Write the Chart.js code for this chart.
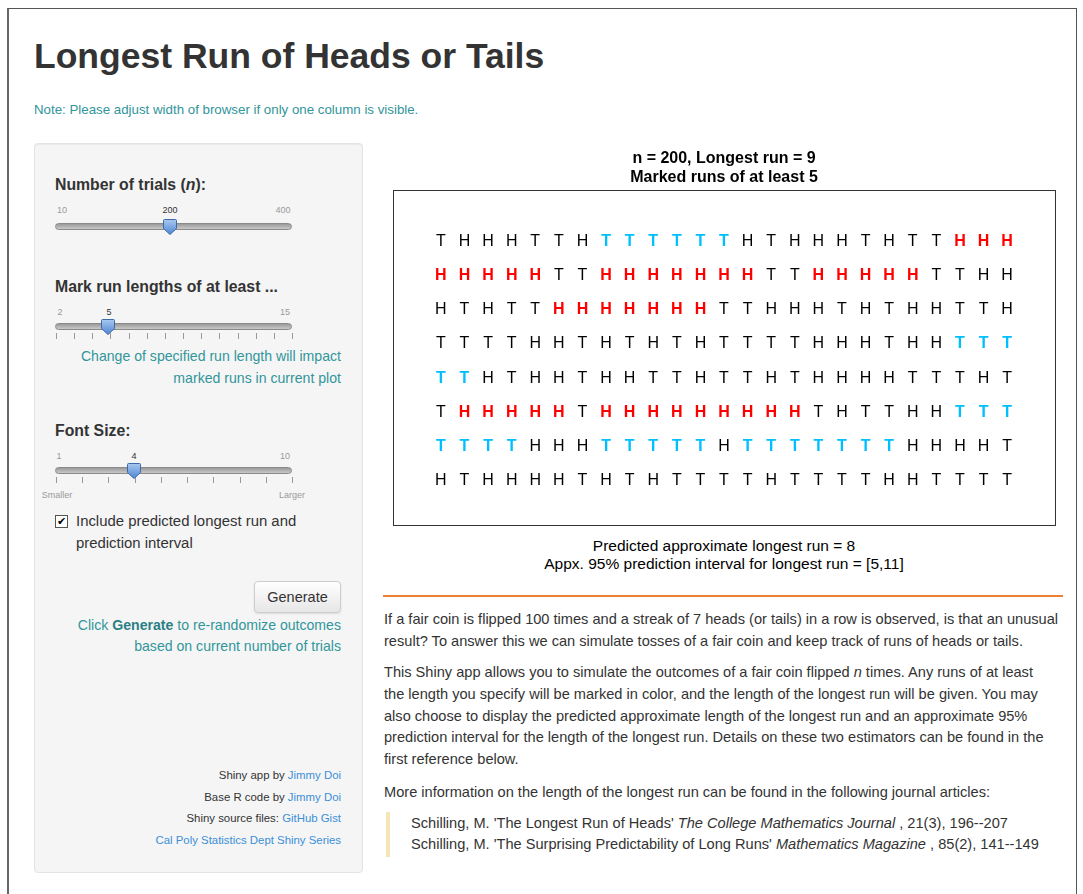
<!DOCTYPE html>
<html>
<head>
<meta charset="utf-8">
<script src="https://cdn.jsdelivr.net/npm/chart.js@4.4.1/dist/chart.umd.min.js"></script>
<style>
  html, body { margin: 0; padding: 0; background: #fff; }
  body { width: 1083px; height: 894px; position: relative; overflow: hidden;
         font-family: "Liberation Sans", Arial, sans-serif; color: #333; }
  .abs { position: absolute; white-space: nowrap; }
  #frame { position: absolute; left: 7px; top: 8px; width: 1067px; height: 900px;
           border: 1px solid #555; border-bottom: none; border-left: 2px solid #666; }
  #title { left: 34px; top: 38px; font-size: 35.5px; font-weight: bold; color: #333; line-height: 36px; }
  .teal { color: #31959b; }
  #note { left: 34px; top: 101px; font-size: 13.3px; line-height: 17px; }
  #side { position: absolute; left: 34px; top: 143px; width: 327px; height: 728px;
          background: #f5f5f5; border: 1px solid #e3e3e3; border-radius: 4px;
          box-shadow: inset 0 1px 1px rgba(0,0,0,0.05); }
  .lab { font-size: 15.8px; font-weight: bold; color: #333; line-height: 18px; }
  .sl { font-size: 9px; color: #999; line-height: 10px; transform: translateX(-50%); }
  .slv { color: #333; }
  .track { position: absolute; left: 55px; width: 235px; height: 5px; border: 1px solid #8a8a8a;
           border-radius: 4px; background: linear-gradient(#9a9a9a, #c9c9c9); }
  .handle { position: absolute; width: 14px; height: 16px; }
  .tick { position: absolute; width: 1px; height: 6px; background: #999; }
  .rt { right: 742px; text-align: right; font-size: 14.1px; line-height: 22px; }
  #btn { left: 254px; top: 581px; width: 85px; height: 30px; border: 1px solid #ccc; border-radius: 4px;
         background: linear-gradient(#ffffff, #e6e6e6); font-size: 14.5px; line-height: 30px;
         text-align: center; color: #333; box-shadow: 0 1px 2px rgba(0,0,0,0.1); }
  .foot { right: 742px; font-size: 11.4px; line-height: 14px; color: #333; }
  .lnk { color: #3a8fd8; }
  #chartBox { position: absolute; left: 380px; top: 145px; width: 692px; height: 390px; }
  .pred { left: 393px; width: 662px; text-align: center; font-size: 15.5px; color: #000; line-height: 18px; }
  #hr { position: absolute; left: 383px; top: 595px; width: 680px; height: 2px; background: #ee8033; }
  .para { left: 384px; font-size: 14.6px; color: #333; }
  #quote { position: absolute; left: 386px; top: 812px; width: 4px; height: 45px; background: #f7e6b5; }
</style>
</head>
<body>
<div id="frame"></div>
<div id="title" class="abs">Longest Run of Heads or Tails</div>
<div id="note" class="abs teal">Note: Please adjust width of browser if only one column is visible.</div>

<div id="side"></div>
<div class="abs lab" style="left:55px;top:176px;">Number of trials (<i>n</i>):</div>
<div class="abs sl" style="left:62px;top:205px;">10</div>
<div class="abs sl slv" style="left:170px;top:205px;">200</div>
<div class="abs sl" style="left:283px;top:205px;">400</div>
<div class="track" style="top:223px;"></div>
<div id="h1" class="handle" style="left:163px;top:219px;"></div>

<div class="abs lab" style="left:55px;top:278px;">Mark run lengths of at least ...</div>
<div class="abs sl" style="left:60px;top:307px;">2</div>
<div class="abs sl slv" style="left:109px;top:307px;">5</div>
<div class="abs sl" style="left:285px;top:307px;">15</div>
<div class="track" style="top:323px;"></div>
<div id="ticks2"></div>
<div id="h2" class="handle" style="left:101px;top:319px;"></div>
<div class="abs rt teal" style="top:345px;">Change of specified run length will impact</div>
<div class="abs rt teal" style="top:367px;">marked runs in current plot</div>

<div class="abs lab" style="left:55px;top:422px;">Font Size:</div>
<div class="abs sl" style="left:59px;top:451px;">1</div>
<div class="abs sl slv" style="left:134px;top:451px;">4</div>
<div class="abs sl" style="left:285px;top:451px;">10</div>
<div class="track" style="top:467px;"></div>
<div id="ticks3"></div>
<div id="h3" class="handle" style="left:127px;top:463px;"></div>
<div class="abs sl" style="left:57px;top:490px;">Smaller</div>
<div class="abs sl" style="left:292px;top:490px;">Larger</div>

<div class="abs" style="left:55px;top:515px;width:11px;height:11px;border:1px solid #555;background:#fff;font-size:11px;line-height:11px;text-align:center;color:#000;">&#10004;</div>
<div class="abs" style="left:76px;top:510px;font-size:14.9px;line-height:22px;color:#333;">Include predicted longest run and<br>prediction interval</div>

<div id="btn" class="abs">Generate</div>
<div class="abs rt teal" style="top:614px;">Click <b style="color:#2a7f85;">Generate</b> to re-randomize outcomes</div>
<div class="abs rt teal" style="top:635px;">based on current number of trials</div>

<div class="abs foot" style="top:768px;">Shiny app by <span class="lnk">Jimmy Doi</span></div>
<div class="abs foot" style="top:790px;">Base R code by <span class="lnk">Jimmy Doi</span></div>
<div class="abs foot" style="top:811px;">Shiny source files: <span class="lnk">GitHub Gist</span></div>
<div class="abs foot" style="top:833px;"><span class="lnk">Cal Poly Statistics Dept Shiny Series</span></div>

<div id="chartBox"><canvas id="runChart" width="692" height="390"></canvas></div>

<div class="abs pred" style="top:537px;">Predicted approximate longest run = 8</div>
<div class="abs pred" style="top:555px;">Appx. 95% prediction interval for longest run = [5,11]</div>
<div id="hr"></div>

<div class="abs para" style="top:608px;line-height:22px;">If a fair coin is flipped 100 times and a streak of 7 heads (or tails) in a row is observed, is that an unusual<br>result? To answer this we can simulate tosses of a fair coin and keep track of runs of heads or tails.</div>
<div class="abs para" style="top:662px;line-height:21.75px;">This Shiny app allows you to simulate the outcomes of a fair coin flipped <i>n</i> times. Any runs of at least<br>the length you specify will be marked in color, and the length of the longest run will be given. You may<br>also choose to display the predicted approximate length of the longest run and an approximate 95%<br>prediction interval for the length of the longest run. Details on these two estimators can be found in the<br>first reference below.</div>
<div class="abs para" style="top:781px;line-height:22px;">More information on the length of the longest run can be found in the following journal articles:</div>
<div id="quote"></div>
<div class="abs para" style="left:411px;top:813px;line-height:21px;">Schilling, M. 'The Longest Run of Heads' <i>The College Mathematics Journal</i> , 21(3), 196--207<br>Schilling, M. 'The Surprising Predictability of Long Runs' <i>Mathematics Magazine</i> , 85(2), 141--149</div>

<script>
// coin tosses, one string per printed row (25 per row, 200 total)
const tossRows = [
    "THHHTTHTTTTTTHTHHHTHTTHHH",
    "HHHHHTTHHHHHHHTTHHHHHTTHH",
    "HTHTTHHHHHHHTTHHHTHTHHTTH",
    "TTTTHHTHTHTHTTTTHHHTHHTTT",
    "TTHTHHTHHTTHTTHTHHHHTTTHT",
    "THHHHHTHHHHHHHHHTHTTHHTTT",
    "TTTTHHHTTTTTHTTTTTTTHHHHT",
    "HTHHHHTHTHTTTTHTTTTHHTTTT"
];
const nCols = 25;
const minRun = 5;
const plotTitle = ["n = 200, Longest run = 9", "Marked runs of at least 5"];

const headColor = "#ff0000";
const tailColor = "#00bfff";

// flatten and find runs
let tosses = tossRows.join("").split("");
let marked = new Array(tosses.length).fill(false);
let start = 0;
for (let i = 1; i <= tosses.length; i++) {
    if (i == tosses.length || tosses[i] != tosses[start]) {
        if (i - start >= minRun) {
            for (let j = start; j < i; j++) marked[j] = true;
        }
        start = i;
    }
}

let points = tosses.map((t, i) => ({ x: (i % nCols) + 1, y: Math.floor(i / nCols) + 1 }));

// draws each toss letter at its point position
const letterPlugin = {
    id: "letters",
    afterDatasetsDraw(chart) {
        const ctx = chart.ctx;
        const meta = chart.getDatasetMeta(0);
        ctx.save();
        ctx.textAlign = "center";
        ctx.textBaseline = "middle";
        meta.data.forEach((el, i) => {
            if (marked[i]) {
                ctx.font = "bold 16px 'Liberation Sans', Arial";
                ctx.fillStyle = tosses[i] == "H" ? headColor : tailColor;
            } else {
                ctx.font = "16px 'Liberation Sans', Arial";
                ctx.fillStyle = "#000";
            }
            ctx.fillText(tosses[i], el.x, el.y + 1);
        });
        ctx.restore();
    }
};

// box round the plot region
const boxPlugin = {
    id: "box",
    afterDraw(chart) {
        const a = chart.chartArea;
        const ctx = chart.ctx;
        ctx.save();
        ctx.strokeStyle = "#333";
        ctx.lineWidth = 1;
        ctx.strokeRect(Math.round(a.left) + 0.5, Math.round(a.top) + 0.5,
            Math.round(a.right - a.left), Math.round(a.bottom - a.top));
        ctx.restore();
    }
};

new Chart(document.getElementById("runChart"), {
    type: "scatter",
    data: {
        datasets: [{
            data: points,
            pointRadius: 0,
            pointHoverRadius: 0
        }]
    },
    options: {
        responsive: false,
        animation: false,
        layout: { padding: { left: 13, right: 17, top: 0, bottom: 10 } },
        scales: {
            x: { display: false, min: -1.03, max: 27.03 },
            y: { display: false, min: -0.458, max: 9.312, reverse: true }
        },
        plugins: {
            legend: { display: false },
            tooltip: { enabled: false },
            title: {
                display: true,
                text: plotTitle,
                color: "#000",
                font: { family: "'Liberation Sans', Arial", size: 16, weight: "bold", lineHeight: 1.2 },
                padding: { top: 4, bottom: 3 }
            }
        }
    },
    plugins: [letterPlugin, boxPlugin]
});

// slider decorations
const handleSvg = '<svg width="14" height="16" viewBox="0 0 14 16"><defs><linearGradient id="g" x1="0" y1="0" x2="0" y2="1">' +
    '<stop offset="0" stop-color="#a9c8f0"/><stop offset="1" stop-color="#4d86d3"/></linearGradient></defs>' +
    '<path d="M1.5,0.5 H12.5 Q13.5,0.5 13.5,1.5 V9.5 L7,15.5 L0.5,9.5 V1.5 Q0.5,0.5 1.5,0.5 Z" fill="url(#g)" stroke="#3c6aa8"/></svg>';
["h1", "h2", "h3"].forEach(id => document.getElementById(id).innerHTML = handleSvg);

function addTicks(id, count, top) {
    let html = "";
    for (let i = 0; i < count; i++) {
        let x = 56 + i * (236 / (count - 1));
        html += '<div class="tick" style="left:' + Math.round(x) + 'px;top:' + top + 'px;"></div>';
    }
    document.getElementById(id).innerHTML = html;
}
addTicks("ticks2", 14, 333);
addTicks("ticks3", 10, 477);
</script>
</body>
</html>
